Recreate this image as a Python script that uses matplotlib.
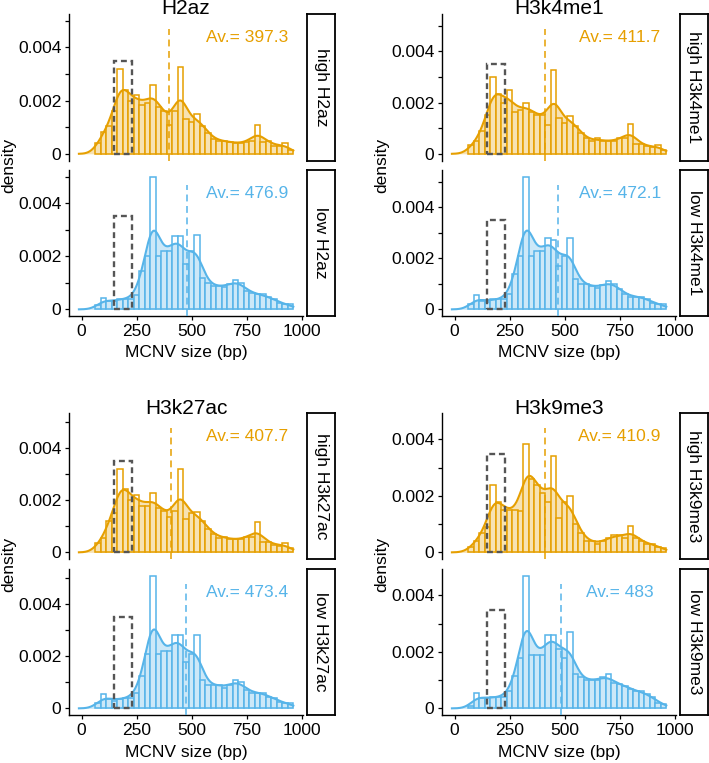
import numpy as np
import matplotlib
matplotlib.use("Agg")
import matplotlib.pyplot as plt
from matplotlib.patches import Rectangle

plt.rcParams['font.family'] = ['Liberation Sans', 'DejaVu Sans']

# ---------------- data ----------------
marks = ["H2az", "H3k4me1", "H3k27ac", "H3k9me3"]
bin_centers = [75, 100, 125, 150, 175, 200, 225, 250, 275, 300, 325, 350,
               375, 400, 425, 450, 475, 500, 525, 550, 575, 600, 625, 650,
               675, 700, 725, 750, 775, 800, 825, 850, 875, 900, 925, 950]
bin_width = 25

high_H2az = [0.0004, 0.00083, 0.00104, 0.0016, 0.0032, 0.0024, 0.0020, 0.0022,
             0.00185, 0.0019, 0.0026, 0.00175, 0.0016, 0.0011, 0.0016, 0.00325,
             0.0013, 0.0012, 0.0015, 0.00104, 0.0008, 0.00054, 0.0005, 0.00048,
             0.00045, 0.0004, 0.0004, 0.00045, 0.0005, 0.0011, 0.00045, 0.0005,
             0.0003, 0.0003, 0.0004, 0.00016]
low_H2az = [0.00015, 0.00044, 0.0003, 0.0003, 0.0004, 0.0004, 0.0004, 0.00054,
            0.00146, 0.0020, 0.0050, 0.0020, 0.0022, 0.0022, 0.00275, 0.00275,
            0.0017, 0.0022, 0.0028, 0.0012, 0.0010, 0.00088, 0.00088, 0.00084,
            0.00096, 0.0011, 0.0010, 0.0007, 0.00063, 0.00056, 0.00056, 0.00046,
            0.00038, 0.00025, 0.00019, 0.00019]
high_H3k4me1 = [0.00034, 0.0005, 0.0009, 0.0015, 0.0030, 0.00233, 0.0020, 0.0025,
                0.00165, 0.0017, 0.0020, 0.00165, 0.0015, 0.0015, 0.00113, 0.00326,
                0.0014, 0.0012, 0.00148, 0.0011, 0.0008, 0.0006, 0.0005, 0.0006,
                0.0005, 0.0005, 0.0005, 0.0006, 0.0006, 0.00117, 0.0004, 0.0004,
                0.0003, 0.00025, 0.00035, 0.00015]
low_H3k4me1 = [0.0002, 0.00055, 0.00033, 0.0003, 0.0004, 0.0004, 0.0004, 0.0006,
               0.0014, 0.0021, 0.0052, 0.0021, 0.0023, 0.0023, 0.0028, 0.0027,
               0.0017, 0.0021, 0.0028, 0.0012, 0.0010, 0.0010, 0.0009, 0.00085,
               0.00095, 0.0011, 0.0010, 0.0008, 0.0006, 0.0005, 0.0005, 0.0005,
               0.0004, 0.00025, 0.0002, 0.0002]
high_H3k27ac = [0.00036, 0.00054, 0.0012, 0.0015, 0.0032, 0.00245, 0.0020, 0.0022,
                0.0018, 0.0018, 0.00227, 0.0017, 0.0016, 0.00134, 0.0016, 0.0032,
                0.0013, 0.0015, 0.00156, 0.0012, 0.0009, 0.0007, 0.00057, 0.0006,
                0.0005, 0.0005, 0.0005, 0.0006, 0.0006, 0.00117, 0.0004, 0.0004,
                0.0003, 0.00025, 0.00035, 0.00015]
low_H3k27ac = [0.0002, 0.00056, 0.00035, 0.0003, 0.00037, 0.0004, 0.0004, 0.0006,
               0.00126, 0.0021, 0.0051, 0.0021, 0.0022, 0.0022, 0.0028, 0.0028,
               0.0018, 0.0021, 0.0028, 0.0011, 0.0009, 0.0009, 0.0009, 0.0008,
               0.0009, 0.0011, 0.0010, 0.0007, 0.0006, 0.0006, 0.0006, 0.00045,
               0.0004, 0.00025, 0.0002, 0.0002]
high_H3k9me3 = [0.0002, 0.0004, 0.0007, 0.0009, 0.0024, 0.0018, 0.0015, 0.0015,
                0.0015, 0.00146, 0.00384, 0.0026, 0.0024, 0.0021, 0.0018, 0.0034,
                0.0012, 0.0018, 0.0020, 0.0010, 0.0007, 0.0004, 0.0004, 0.0003,
                0.0004, 0.0005, 0.0006, 0.0006, 0.0005, 0.00094, 0.0005, 0.0004,
                0.0003, 0.0003, 0.0002, 0.00015]
low_H3k9me3 = [0.0001, 0.00055, 0.00035, 0.00035, 0.0004, 0.0004, 0.0004, 0.0006,
               0.00113, 0.0018, 0.0047, 0.0019, 0.0019, 0.0019, 0.0026, 0.0026,
               0.0021, 0.0018, 0.0027, 0.0012, 0.0011, 0.0010, 0.0010, 0.0010,
               0.0011, 0.0012, 0.0009, 0.00085, 0.0008, 0.0007, 0.0006, 0.0006,
               0.0005, 0.0004, 0.0002, 0.00017]

high_series = [high_H2az, high_H3k4me1, high_H3k27ac, high_H3k9me3]
low_series = [low_H2az, low_H3k4me1, low_H3k27ac, low_H3k9me3]
means_high = [397.3, 411.7, 407.7, 410.9]
means_low = [476.9, 472.1, 473.4, 483]
box_range = [147, 230]
box_top = 0.0035
x_ticks = [0, 250, 500, 750, 1000]

col_high = "#E69F00"
col_low = "#56B4E9"

# ---------------- layout (pixels) ----------------
W, H = 709, 763
fig = plt.figure(figsize=(W / 100, H / 100), dpi=100)


def fx(px):
    return px / W


def fy(py):
    return 1 - py / H


cols_x = [(69, 303), (442, 676)]
strip_x = [(307, 335), (680, 708)]
rows_y = [((14, 160.5), (170, 316)), ((413, 559), (569, 715))]
title_base = [14.5, 414]
xlabel_y = [353, 753]
FS = 12.5
xgrid = np.linspace(-12, 962, 500)
centers = np.array(bin_centers, dtype=float)


def kde(heights):
    h = np.array(heights)
    bw = 30.0
    z = (xgrid[:, None] - centers[None, :]) / bw
    k = np.exp(-0.5 * z ** 2) / (bw * np.sqrt(2 * np.pi))
    return (k * (h * bin_width)[None, :]).sum(axis=1)


for p, mark in enumerate(marks):
    r, c = divmod(p, 2)
    x0, x1 = cols_x[c]
    sx0, sx1 = strip_x[c]
    M = max(max(high_series[p]), max(low_series[p]))
    ylo, yhi = -0.05 * M, 1.05 * M
    facets = [("high", high_series[p], means_high[p], col_high),
              ("low", low_series[p], means_low[p], col_low)]
    for f, (lvl, heights, m, col) in enumerate(facets):
        y0, y1 = rows_y[r][f]
        ax = fig.add_axes([fx(x0), fy(y1), (x1 - x0) / W, (y1 - y0) / H])
        ax.bar(bin_centers, heights, width=bin_width, facecolor="white",
               edgecolor=col, linewidth=1.1, zorder=2)
        d = kde(heights)
        ax.fill_between(xgrid, 0, d, color=col, alpha=0.3, lw=0, zorder=3)
        ax.plot(xgrid, d, color=col, lw=1.5, zorder=4)
        ax.plot([m, m], [ylo, 0.94 * M], color=col, lw=1.1,
                ls=(0, (4.5, 3)), zorder=5)
        ax.add_patch(Rectangle((box_range[0], 0), box_range[1] - box_range[0],
                               box_top, fill=False, ec="#555555", lw=1.7,
                               ls=(0, (2.5, 1.6)), zorder=6))
        ax.text(750, 0.875 * M, f"Av.= {m:g}", color=col, ha="center",
                va="center", fontsize=FS, zorder=7)
        ax.set_xlim(-57, 1006)
        ax.set_ylim(ylo, yhi)
        yt = [v for v in [0, 0.001, 0.002, 0.003, 0.004, 0.005] if v <= yhi]
        ax.set_yticks(yt)
        ax.set_yticklabels(["0" if v == 0 else (f"{v:.3f}" if round(v * 1000) % 2 == 0 else "")
                            for v in yt])
        for s in ["top", "right"]:
            ax.spines[s].set_visible(False)
        ax.spines["left"].set_linewidth(1.0)
        ax.spines["bottom"].set_linewidth(1.0)
        ax.tick_params(axis="both", direction="out", length=3, width=0.9,
                       labelsize=FS, pad=2.5, colors="black")
        if f == 0:
            ax.spines["bottom"].set_visible(False)
            ax.set_xticks([])
        else:
            ax.set_xticks(x_ticks)
            ax.set_xticklabels([str(v) for v in x_ticks])
        # strip
        sax = fig.add_axes([fx(sx0), fy(y1), (sx1 - sx0) / W, (y1 - y0) / H])
        sax.set_xticks([])
        sax.set_yticks([])
        for s in sax.spines.values():
            s.set_linewidth(1.3)
            s.set_color("black")
        sax.text(0.5, 0.5, f"{lvl} {mark}", rotation=-90, ha="center",
                 va="center", fontsize=FS, transform=sax.transAxes)
    # titles and labels
    cx = (x0 + x1) / 2
    fig.text(fx(cx), fy(title_base[r]), mark, ha="center", va="baseline",
             fontsize=15)
    fig.text(fx(cx), fy(xlabel_y[r]), "MCNV size (bp)", ha="center",
             va="center", fontsize=FS)
    ycen = (rows_y[r][0][0] + rows_y[r][1][1]) / 2
    fig.text(fx(x0 - 60), fy(ycen), "density", rotation=90, ha="center",
             va="center", fontsize=FS)

fig.savefig("out.png", dpi=100)
